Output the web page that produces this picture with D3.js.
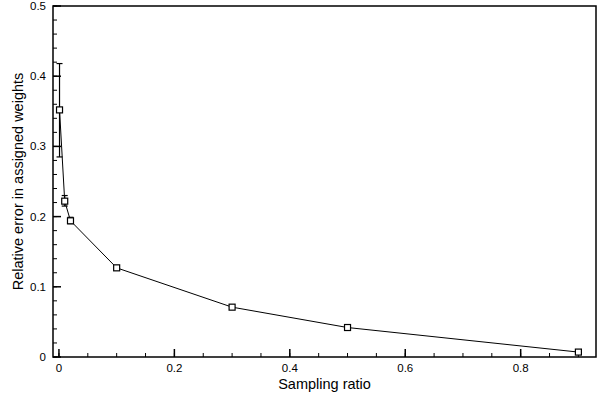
<!DOCTYPE html>
<html>
<head>
<meta charset="utf-8">
<script src="https://cdn.jsdelivr.net/npm/d3@7"></script>
<style>
  body { margin: 0; background: #fff; }
  svg { font-family: "Liberation Sans", Arial, sans-serif; }
</style>
</head>
<body>
<svg id="chart" width="599" height="396"></svg>
<script>
// sampling ratio vs relative error
const ratios = [0.001, 0.01, 0.02, 0.1, 0.3, 0.5, 0.9];
const errors = [0.352, 0.222, 0.194, 0.127, 0.071, 0.042, 0.007];
const errLow = [0.285, 0.215, 0.190, 0.127, 0.071, 0.042, 0.007];
const errHigh = [0.418, 0.230, 0.199, 0.127, 0.071, 0.042, 0.007];

const xTicks = [0, 0.2, 0.4, 0.6, 0.8];
const yTicks = [0, 0.1, 0.2, 0.3, 0.4, 0.5];

const margin = { left: 53, right: 3, top: 6, bottom: 39 };
const W = 599, H = 396;

const svg = d3.select('#chart');

const x = d3.scaleLinear().domain([-0.0103, 0.9305]).range([margin.left, W - margin.right]);
const y = d3.scaleLinear().domain([0, 0.5]).range([H - margin.bottom, margin.top]);

const data = ratios.map((r, i) => ({ x: r, y: errors[i], lo: errLow[i], hi: errHigh[i] }));

// frame
svg.append('rect')
  .attr('x', margin.left).attr('y', margin.top)
  .attr('width', W - margin.left - margin.right)
  .attr('height', H - margin.top - margin.bottom)
  .attr('fill', 'none').attr('stroke', '#000').attr('stroke-width', 1.5);

// bottom axis: major + minor ticks pointing inward
const xMinor = d3.range(0, 0.91, 0.05);
const gx = svg.append('g').attr('transform', `translate(0,${y(0)})`);
gx.selectAll('line.minor').data(xMinor).join('line')
  .attr('x1', d => x(d)).attr('x2', d => x(d))
  .attr('y1', 0).attr('y2', -4)
  .attr('stroke', '#000').attr('stroke-width', 1);
gx.selectAll('line.major').data(xTicks).join('line')
  .attr('x1', d => x(d)).attr('x2', d => x(d))
  .attr('y1', 0).attr('y2', -8)
  .attr('stroke', '#000').attr('stroke-width', 1.5);
gx.selectAll('text').data(xTicks).join('text')
  .attr('x', d => x(d)).attr('y', 15)
  .attr('text-anchor', 'middle')
  .attr('font-size', 11.5)
  .text(d => d3.format('~g')(d));

// left axis
const yMinor = d3.range(0, 0.501, 0.02);
const gy = svg.append('g').attr('transform', `translate(${margin.left},0)`);
gy.selectAll('line.minor').data(yMinor).join('line')
  .attr('y1', d => y(d)).attr('y2', d => y(d))
  .attr('x1', 0).attr('x2', 4)
  .attr('stroke', '#000').attr('stroke-width', 1);
gy.selectAll('line.major').data(yTicks).join('line')
  .attr('y1', d => y(d)).attr('y2', d => y(d))
  .attr('x1', 0).attr('x2', 8)
  .attr('stroke', '#000').attr('stroke-width', 1.5);
gy.selectAll('text').data(yTicks).join('text')
  .attr('x', -7).attr('y', d => y(d) + 4)
  .attr('text-anchor', 'end')
  .attr('font-size', 11.5)
  .text(d => d3.format('~g')(d));

// axis titles
svg.append('text')
  .attr('x', (margin.left + W - margin.right) / 2).attr('y', 389)
  .attr('text-anchor', 'middle').attr('font-size', 14.5)
  .text('Sampling ratio');
svg.append('text')
  .attr('transform', `translate(23,${(margin.top + H - margin.bottom) / 2}) rotate(-90)`)
  .attr('text-anchor', 'middle').attr('font-size', 14.5)
  .text('Relative error in assigned weights');

// error bars
const eb = svg.append('g').attr('stroke', '#000').attr('stroke-width', 1.2);
data.filter(d => d.hi - d.lo > 0.001).forEach(d => {
  eb.append('line').attr('x1', x(d.x)).attr('x2', x(d.x)).attr('y1', y(d.lo)).attr('y2', y(d.hi));
  eb.append('line').attr('x1', x(d.x) - 3).attr('x2', x(d.x) + 3).attr('y1', y(d.lo)).attr('y2', y(d.lo));
  eb.append('line').attr('x1', x(d.x) - 3).attr('x2', x(d.x) + 3).attr('y1', y(d.hi)).attr('y2', y(d.hi));
});

// line
svg.append('path')
  .datum(data)
  .attr('fill', 'none').attr('stroke', '#000').attr('stroke-width', 1)
  .attr('d', d3.line().x(d => x(d.x)).y(d => y(d.y)));

// markers
svg.selectAll('rect.pt').data(data).join('rect')
  .attr('class', 'pt')
  .attr('x', d => x(d.x) - 3).attr('y', d => y(d.y) - 3)
  .attr('width', 6).attr('height', 6)
  .attr('fill', '#fff').attr('stroke', '#000').attr('stroke-width', 1.2);
</script>
</body>
</html>
